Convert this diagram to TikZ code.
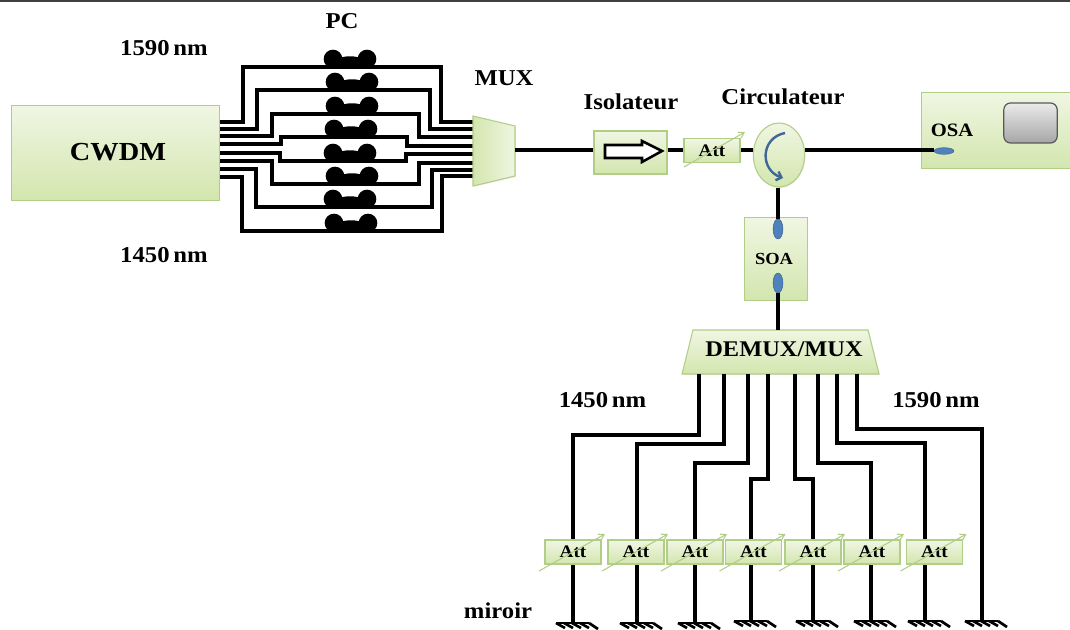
\documentclass[tikz,border=0pt]{standalone}
\usepackage{fontspec}
\setmainfont[FakeStretch=1.09]{Liberation Serif}
\usetikzlibrary{shapes.geometric,arrows.meta,calc,shadows}
\definecolor{gedge}{HTML}{B2CE86}
\definecolor{gtop}{HTML}{F0F6E3}
\definecolor{gbot}{HTML}{D3E6AE}
\definecolor{bluef}{HTML}{4F81BD}
\tikzset{
  x=0.75pt,y=-0.75pt,
  softshadow/.style={drop shadow={opacity=0.18,shadow xshift=0.5pt,shadow yshift=-0.7pt}},
  gbox/.style={draw=gedge,line width=0.8pt,top color=gtop,bottom color=gbot,inner sep=0pt,font=\bfseries,softshadow},
  wire/.style={line width=2.4pt,black,line join=miter},
  lbl/.style={font=\bfseries\fontsize{17}{19}\selectfont,inner sep=0pt},
  attb/.style={gbox,minimum width=42pt,minimum height=18pt,font=\bfseries\fontsize{13.2}{15}\selectfont},
  dial/.style={draw=gedge,line width=0.8pt,-{Straight Barb[length=4pt,width=5pt]}},
  port/.style={ellipse,draw=bluef!70!black,line width=0.3pt,fill=bluef,inner sep=0pt},
  blob/.style={fill=black,draw=none},
}
\newcommand{\pcblob}[3]{% x1, x2, line y
  \fill[blob] (#1,#3-8) circle[radius=7pt];
  \fill[blob] (#2,#3-8) circle[radius=7pt];
  \fill[blob] ({(#1+#2)/2},#3-7) ellipse[x radius=9pt,y radius=2.8pt];
  \fill[blob] (#1,#3-7) rectangle (#2,#3+1);
  \fill[blob] (#1-13,#3-2) rectangle (#2+13,#3+2);
}
\newcommand{\gnd}[2]{% x, y
  \draw[line width=2.2pt] (#1-17,#2) -- (#1+16,#2);
  \foreach \d in {-17,-9,-1,7}{\draw[line width=2pt] (#1+\d,#2) -- (#1+\d+9,#2+5);}
  \draw[line width=2pt] (#1+16,#2) -- (#1+25,#2+6);
}
\begin{document}
\begin{tikzpicture}
\useasboundingbox (0,0) rectangle (1070,630);
\fill[white] (0,0) rectangle (1070,630);
\fill[black!75] (0,0) rectangle (1070,2);

% wires CWDM-MUX
\coordinate (w1a) at (219,122); \coordinate (w1b) at (473,122);
\coordinate (w2a) at (219,129); \coordinate (w2b) at (473,129);
\coordinate (w3a) at (219,136); \coordinate (w3b) at (473,137);
\coordinate (w4a) at (219,144); \coordinate (w4b) at (473,146);
\coordinate (w5a) at (219,153); \coordinate (w5b) at (473,154);
\coordinate (w6a) at (219,161); \coordinate (w6b) at (473,163);
\coordinate (w7a) at (219,169); \coordinate (w7b) at (473,170);
\coordinate (w8a) at (219,177); \coordinate (w8b) at (473,176);
\draw[wire] (w1a) -| (243,67) -| (441,122) -- (w1b);
\draw[wire] (w2a) -| (257,90) -| (430,129) -- (w2b);
\draw[wire] (w3a) -| (272,114) -| (419,137) -- (w3b);
\draw[wire] (w4a) -| (281,137) -| (407,146) -- (w4b);
\draw[wire] (w5a) -| (280,161) -| (406,154) -- (w5b);
\draw[wire] (w6a) -| (272,184) -| (419,163) -- (w6b);
\draw[wire] (w7a) -| (256,207) -| (432,170) -- (w7b);
\draw[wire] (w8a) -| (242,231) -| (442,176) -- (w8b);

\pcblob{333}{367}{67}
\pcblob{335}{369}{90}
\pcblob{335}{369}{114}
\pcblob{334}{368}{137}
\pcblob{333}{367}{161}
\pcblob{335}{369}{184}
\pcblob{333}{367}{207}
\pcblob{334}{368}{231}

\node[gbox,minimum width=156pt,minimum height=71pt,anchor=north west] (cwdm) at (11,105) {};
\node[inner sep=0pt,font=\bfseries\fontsize{19.5}{21}\selectfont] (lcwdm) at (118,152) {CWDM};

\node[lbl] (lpc) at (342,21) {PC};
\node[lbl] (l1590a) at (164,48) {1590\,nm};
\node[lbl] (l1450a) at (164,255) {1450\,nm};
\node[lbl] (lmux) at (504,78) {MUX};
\node[lbl] (liso) at (631,102) {Isolateur};
\node[lbl] (lcirc) at (783,97) {Circulateur};
\node[lbl] (l1450b) at (602.5,400) {1450\,nm};
\node[lbl] (l1590b) at (936,400) {1590\,nm};
\node[lbl] (lmir) at (498,611) {miroir};

% MUX
\path[draw=gedge,line width=0.8pt,left color=gbot,right color=gtop,softshadow] (473,116) -- (515,126) -- (515,176) -- (473,186) -- cycle;
\coordinate (muxout) at (515,150);

% isolator
\node[gbox,minimum width=54.75pt,minimum height=32.25pt] (iso) at (630.5,152.5) {};
\draw[line width=1.9pt,fill=white] (605,145) -- (642,145) -- (642,141) -- (662,151) -- (642,162) -- (642,158) -- (605,158) -- cycle;
\node[attb] (att0) at (712,150.5) {Att};
\node[ellipse,draw=gedge,line width=0.8pt,top color=gtop,bottom color=gbot,minimum width=38.5pt,minimum height=48pt,inner sep=0pt,softshadow] (circ) at (779,155) {};
\node[gbox,minimum width=112pt,minimum height=57pt,anchor=north west] (osa) at (921,92) {};
\node[draw=black!65,line width=0.9pt,rounded corners=5pt,top color=black!8,bottom color=black!35,minimum width=40pt,minimum height=30pt,inner sep=0pt] (scr) at (1030.5,123) {};
\node[font=\bfseries\fontsize{14.2}{16}\selectfont,inner sep=0pt] (losa) at (952,130) {OSA};
\node[port,minimum width=15pt,minimum height=5pt] (osap) at (944,151) {};
\draw[wire] (muxout) -- (iso.west |- muxout);
\draw[wire] (iso.east |- 0,150) -- (att0.west |- 0,150);
\draw[wire] (att0.east |- 0,150) -- (circ.west |- 0,150);
\draw[wire] (circ.east |- 0,150) -- (osap.west |- 0,150);
\draw[dial] (684,167) -- (745,132);
\draw[line width=1.8pt,color=bluef!80!black,-{Straight Barb[length=3.5pt,width=7pt]}] (785,133) .. controls (760,138) and (760,170) .. (783,178);

% SOA
\node[gbox,minimum width=47pt,minimum height=62pt,anchor=north west] (soa) at (744,217) {};
\node[font=\bfseries\fontsize{12.7}{14}\selectfont,inner sep=0pt] (lsoa) at (774,259) {SOA};
\node[port,minimum width=7.5pt,minimum height=15pt] (soa1) at (778,229) {};
\node[port,minimum width=7.5pt,minimum height=15pt] (soa2) at (778,283) {};
\draw[wire] (circ.south -| soa1) -- (soa1.north);

% DEMUX
\path[draw=gedge,line width=0.8pt,top color=gtop,bottom color=gbot,softshadow] (693,330) -- (868,330) -- (879,374) -- (682,374) -- cycle;
\node[inner sep=0pt,font=\bfseries\fontsize{16.8}{19}\selectfont] (ldem) at (784,349) {DEMUX/MUX};
\coordinate (demtop) at (778,330);
\draw[wire] (soa2.south) -- (demtop);

% fibres to mirrors
\draw[wire] (699,374) |- (573,435) -- (573,622);
\draw[wire] (724,374) |- (637,444) -- (637,622);
\draw[wire] (748,374) |- (695,463) -- (695,622);
\draw[wire] (768,374) |- (751,479) -- (751,621);
\draw[wire] (795,374) |- (813,479) -- (813,621);
\draw[wire] (818,374) |- (871,463) -- (871,621);
\draw[wire] (837,374) |- (925,443) -- (925,621);
\draw[wire] (857,374) |- (982,429) -- (982,621);

\foreach \x/\y in {573/623,637/623,695/623,751/621,813/621,871/621,925/621,982/621}{\gnd{\x}{\y}}

\foreach \n/\x in {1/573,2/636,3/695,4/753.5,5/813,6/872,7/934.5}{
  \node[attb] (att\n) at (\x,552) {Att};
  \draw[dial] ($(att\n.center)+(-34,19)$) -- ($(att\n.center)+(32,-18)$);
}
\end{tikzpicture}
\end{document}
